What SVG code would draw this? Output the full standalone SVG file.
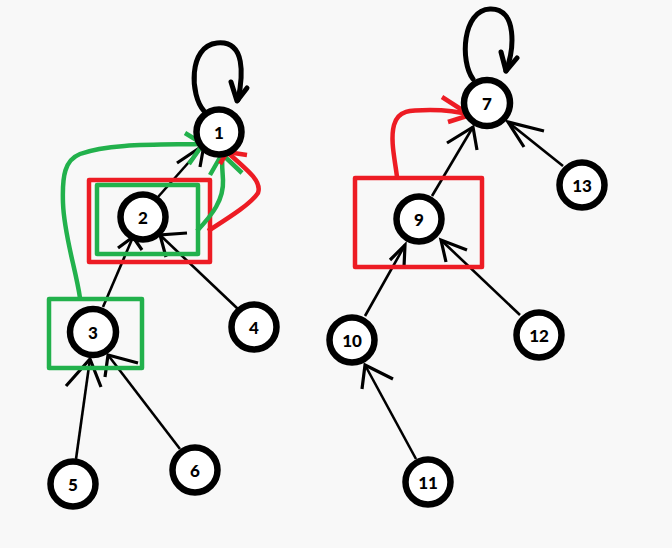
<svg xmlns="http://www.w3.org/2000/svg" width="672" height="548" viewBox="0 0 672 548">
<style>
.n circle{fill:#fff;stroke:#000;stroke-width:6.5}
.n text{font-family:Lato,"Liberation Sans",sans-serif;font-weight:900;font-size:17px;text-anchor:middle;dominant-baseline:central;fill:#000}
.e{stroke:#000;stroke-width:2.6;fill:none;stroke-linecap:butt}
.h{stroke:#000;stroke-width:3.2;fill:none}
.loop{stroke:#000;stroke-width:5;fill:none;stroke-linecap:round;stroke-linejoin:round}
.g{stroke:#22b14c;stroke-width:4.5;fill:none;stroke-linejoin:round}
.r{stroke:#ed1c24;stroke-width:4.5;fill:none;stroke-linejoin:round}
</style>
<rect width="672" height="548" fill="#f8f8f8"/>
<g id="connectors">
<!-- 2 -> 1 -->
<line class="e" x1="158" y1="197" x2="204" y2="145"/>
<path class="h" d="M177 163 L204 145 L200 167"/>
<!-- 3 -> 2 -->
<line class="e" x1="103" y1="307" x2="133" y2="237"/>
<path class="h" d="M118 248 L133 237 L142 250"/>
<!-- 4 -> 2 -->
<line class="e" x1="238" y1="309" x2="160" y2="235"/>
<path class="h" d="M187 233 L160 235 L166 257"/>
<!-- 5 -> 3 -->
<line class="e" x1="76" y1="459" x2="90" y2="359"/>
<path class="h" d="M66 386 L90 359 L101 387"/>
<!-- 6 -> 3 -->
<line class="e" x1="180" y1="449" x2="108" y2="355"/>
<path class="h" d="M138 363 L108 355 L105 377"/>
<!-- 9 -> 7 -->
<line class="e" x1="432" y1="196" x2="473" y2="127"/>
<path class="h" d="M447 143 L473 127 L477 150"/>
<!-- 13 -> 7 -->
<line class="e" x1="563" y1="166" x2="508" y2="122"/>
<path class="h" d="M544 131 L508 122 L524 147"/>
<!-- 10 -> 9 -->
<line class="e" x1="365" y1="316" x2="405" y2="245"/>
<path class="h" d="M390 260 L405 245 L404 267"/>
<!-- 12 -> 9 -->
<line class="e" x1="520" y1="315" x2="441" y2="240"/>
<path class="h" d="M467 250 L441 240 L446 262"/>
<!-- 11 -> 10 -->
<line class="e" x1="416" y1="459" x2="365" y2="365"/>
<path class="h" d="M393 379 L365 365 L362 389"/>
<!-- self loops -->
<path class="loop" d="M204 111 C190 96 188 46 217 43 C246 40 243 76 238 100"/>
<path class="loop" d="M231 82 L237 101 L247 88"/>
<path class="loop" d="M473 79 C460 62 462 10 490 9 C518 8 514 50 506 71"/>
<path class="loop" d="M501 52 L506 71 L517 58"/>
<!-- boxes -->
<rect class="r" x="89" y="180" width="121" height="82"/>
<rect class="g" x="97" y="185" width="101" height="69"/>
<rect class="g" x="49" y="299" width="93" height="69"/>
<rect class="r" x="355" y="178" width="127" height="89"/>
<!-- green curved arrows -->
<path class="g" d="M80 298 C76 270 64 235 63 203 C62 175 65 160 80 154 C110 143 160 145 203 144"/>
<path class="g" d="M185 133 L203 144 L189 164"/>
<path class="g" d="M197 231 C212 215 224 200 223 180 C222 168 222 160 222 154"/>
<path class="g" d="M210 175 L222 154 L242 173"/>
<!-- red curved arrows -->
<path class="r" d="M208 231 C225 220 250 205 258 193 C262 182 250 172 227 152"/>
<path class="r" d="M247 155 L227 152 L220 164"/>
<path class="r" d="M397 177 C395 160 390 140 394 125 C398 110 410 110 430 110 C445 110 460 112 470 115"/>
<path class="r" d="M442 97 L470 115 L448 122"/>
</g>
<g id="node1" class="n"><circle cx="219" cy="132" r="22.5"/><text x="219" y="132">1</text></g>
<g id="node2" class="n"><circle cx="143" cy="217" r="22.5"/><text x="143" y="217">2</text></g>
<g id="node3" class="n"><circle cx="93" cy="332" r="23"/><text x="93" y="332">3</text></g>
<g id="node4" class="n"><circle cx="254" cy="327" r="22.5"/><text x="254" y="327">4</text></g>
<g id="node5" class="n"><circle cx="73" cy="484" r="22.5"/><text x="73" y="484">5</text></g>
<g id="node6" class="n"><circle cx="195" cy="470" r="22.5"/><text x="195" y="470">6</text></g>
<g id="node7" class="n"><circle cx="487" cy="103" r="23"/><text x="487" y="103">7</text></g>
<g id="node9" class="n"><circle cx="419" cy="219" r="22.5"/><text x="419" y="219">9</text></g>
<g id="node10" class="n"><circle cx="352" cy="340" r="22.5"/><text x="352" y="340">10</text></g>
<g id="node11" class="n"><circle cx="428" cy="482" r="22.5"/><text x="428" y="482">11</text></g>
<g id="node12" class="n"><circle cx="539" cy="335" r="22.5"/><text x="539" y="335">12</text></g>
<g id="node13" class="n"><circle cx="582" cy="185" r="22.5"/><text x="582" y="185">13</text></g>
</svg>
